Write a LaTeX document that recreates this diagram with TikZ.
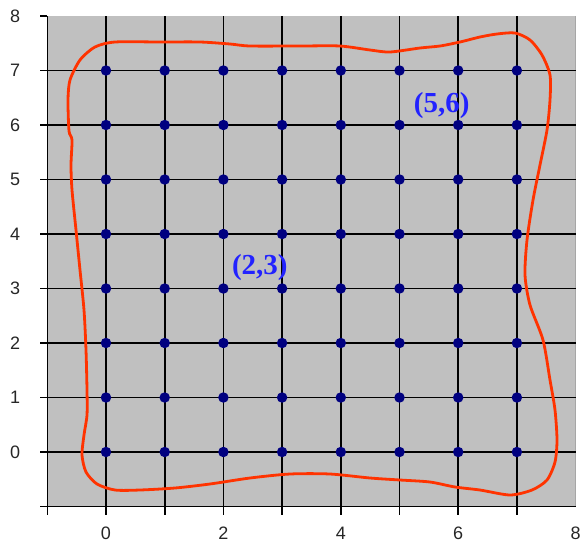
\documentclass[tikz,border=0pt]{standalone}
\usepackage{fontspec}
\setmainfont{Liberation Serif}
\newfontfamily\axisfont{Liberation Sans}
\definecolor{plotgray}{HTML}{C0C0C0}
\definecolor{dotblue}{HTML}{000080}
\definecolor{curvered}{HTML}{FF3300}
\definecolor{labelblue}{HTML}{2222FF}
\begin{document}
\begin{tikzpicture}[x=1pt,y=-1pt,
  gridline/.style={black, line width=1.6pt},
  gridpt/.style={circle, fill=dotblue, inner sep=0pt, minimum size=10.5pt},
  axislabel/.style={font=\axisfont\fontsize{18}{20}\selectfont, text=black!85},
  ptlabel/.style={font=\bfseries\fontsize{29}{32}\selectfont, text=labelblue},
  boundary/.style={curvered, line width=2.8pt, line join=round}]
\useasboundingbox (0,0) rectangle (580,544);
\fill[plotgray] (47,16) rectangle (575,507);
\draw[black!35, line width=1pt] (575,16) -- (575,507);
\begin{scope}[shift={(106,452)}, x=58.7pt, y=54.5pt]
  \foreach \i in {-1,...,7} \draw[gridline] (\i,-1.15) -- (\i,8);
  \foreach \j in {-1,...,7} \draw[gridline] (-1.12,\j) -- (8,\j);
  \draw[gridline] (-1.12,8) -- (-1,8);
  \foreach \i in {0,...,7}
    \foreach \j in {0,...,7}
      \node[gridpt] (p-\i-\j) at (\i,\j) {};
  \foreach \j in {0,...,8}
    \node[axislabel] (ylab-\j) at (-1.55,\j) {\j};
  \foreach \i in {0,2,4,6,8}
    \node[axislabel] (xlab-\i) at (\i,-1.49) {\i};
  \node[ptlabel] (lab23) at (2.62,3.38) {(2,3)};
  \node[ptlabel] (lab56) at (5.72,6.35) {(5,6)};
\end{scope}
\draw[boundary] plot[smooth cycle, tension=0.45] coordinates {
  (115,42) (160,42) (200,42) (230,44) (250,46) (300,46) (340,46) (370,50)
  (390,52) (420,48) (440,46) (460,42) (480,37) (497,34) (515,33) (530,40)
  (542,55) (550,75) (550,100) (547,130) (540,165) (533,200) (527,240)
  (525,275) (530,305) (543,340) (550,380) (555,410) (557,440) (555,462)
  (547,480) (532,490) (510,495) (480,490) (455,487) (430,482) (400,480)
  (370,478) (330,474) (290,474) (250,478) (210,484) (175,488) (140,490)
  (115,490) (97,484) (86,472) (82,455) (84,435) (87,415) (87,390) (86,350)
  (84,310) (80,270) (76,230) (72,190) (71,165) (72,140) (69,131) (68,100)
  (70,80) (80,60) (95,47)};
\end{tikzpicture}
\end{document}
